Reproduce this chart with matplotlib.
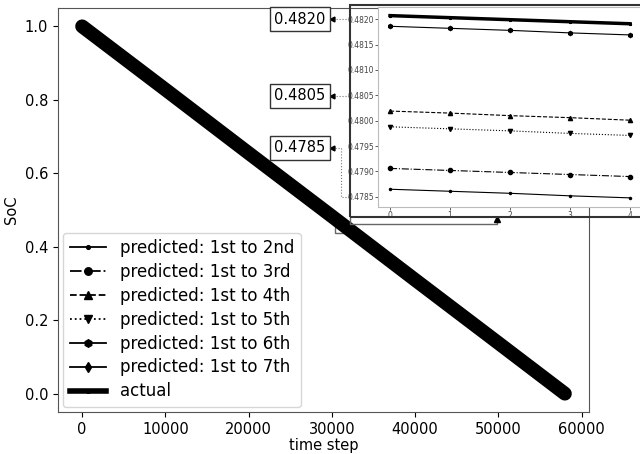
import matplotlib.pyplot as plt
from matplotlib.lines import Line2D
from matplotlib.patches import Rectangle

# main curve
time_step = [0, 10000, 20000, 30000, 40000, 50000, 58000]
soc_main = [1.0, 0.828, 0.655, 0.483, 0.310, 0.138, 0.0]

# zoomed window (inset), 5 steps
zoom_x = [0, 1, 2, 3, 4]
actual = [0.48207, 0.48203, 0.48199, 0.48195, 0.48191]
pred_2nd = [0.47865, 0.47861, 0.47857, 0.47852, 0.47848]
pred_3rd = [0.47906, 0.47902, 0.47898, 0.47894, 0.47890]
pred_4th = [0.48019, 0.48015, 0.48010, 0.48006, 0.48001]
pred_5th = [0.47988, 0.47984, 0.47980, 0.47975, 0.47971]
pred_6th = [0.48186, 0.48182, 0.48178, 0.48173, 0.48169]
pred_7th = [0.47815, 0.47811, 0.47807, 0.47803, 0.47799]

labels = ['predicted: 1st to 2nd', 'predicted: 1st to 3rd', 'predicted: 1st to 4th',
          'predicted: 1st to 5th', 'predicted: 1st to 6th', 'predicted: 1st to 7th', 'actual']
box_labels = ['0.4820', '0.4805', '0.4785']

W, H = 640, 454
fig = plt.figure(figsize=(6.4, 4.54), dpi=100)
ax = fig.add_axes([58/W, 1-412/H, 531/W, 404/H])

ax.plot(time_step, soc_main, color='black', lw=10, solid_capstyle='round')
ax.set_xlabel('time step', fontsize=10.5, labelpad=1)
ax.set_ylabel('SoC', fontsize=10.5)
ax.tick_params(labelsize=10.5)
ax.set_xticks([0, 10000, 20000, 30000, 40000, 50000, 60000])
ax.set_xlim(-2900, 60900)
ax.set_ylim(-0.05, 1.05)
for s in ax.spines.values():
    s.set_color('#555555')

# little rectangle marking the zoom window
ax.add_patch(Rectangle((30400, 0.438), 1900, 0.017, fill=False, ec='#666666', lw=1, zorder=1))

# inset
ins = fig.add_axes([378/W, 1-207/H, 264/W, 200/H])
series = [pred_2nd, pred_3rd, pred_4th, pred_5th, pred_6th, pred_7th]
styles = [('-', '.'), ('-.', 'o'), ('--', '^'), (':', 'v'), ('-', 'h'), ('-', 'd')]
handles = []
for vals, (ls, mk), lab in zip(series, styles, labels):
    h, = ins.plot(zoom_x, vals, color='black', ls=ls, marker=mk, ms=3, lw=0.8, label=lab)
    handles.append(h)
h, = ins.plot(zoom_x, actual, color='black', lw=2.5, marker='*', ms=2, label=labels[-1])
handles.append(h)
ins.set_xlim(-0.2, 4.2)
ins.set_ylim(0.47830, 0.48224)
ins.set_xticks(zoom_x)
ins.set_yticks([0.4785, 0.4790, 0.4795, 0.4800, 0.4805, 0.4810, 0.4815, 0.4820])
ins.set_yticklabels(['%.4f' % v for v in ins.get_yticks()])
ins.tick_params(labelsize=5.5, length=2, width=0.6, pad=1, colors='#444444')
for s in ins.spines.values():
    s.set_color('#bbbbbb')

# legend with thicker-looking handles
leg = ax.legend(handles=handles, loc='lower left', fontsize=12, markerscale=1.8,
                borderaxespad=0.3, handlelength=2.2, labelspacing=0.35)
for lh in leg.get_lines()[:-1]:
    lh.set_linewidth(1.3)
leg.get_lines()[-1].set_linewidth(4)

# outer frame around the inset
fig.add_artist(Rectangle((350/W, 1-217/H), 300/W, 212/H, transform=fig.transFigure,
                         fill=False, ec='#333333', lw=1.5, zorder=5))

# value boxes with dotted leaders
def fp(x, y):
    return (x/W, 1-y/H)

box_y = [19, 96, 148]
tick_y = [19, 96, 197]
for lab, by, ty in zip(box_labels, box_y, tick_y):
    fig.text(300/W, 1-by/H, lab, ha='center', va='center', fontsize=10.5,
             bbox=dict(boxstyle='square,pad=0.3', fc='white', ec='#333333', lw=1))
    if by == ty:
        xs, ys = [349, 332], [ty, ty]
    else:
        xs, ys = [349, 341, 341, 332], [ty, ty, by, by]
    pts = [fp(x, y) for x, y in zip(xs, ys)]
    fig.add_artist(Line2D([p[0] for p in pts], [p[1] for p in pts], transform=fig.transFigure,
                          ls=':', lw=0.8, color='#777777'))
    fig.add_artist(Line2D([pts[-1][0]], [pts[-1][1]], transform=fig.transFigure,
                          marker='<', ms=3.5, color='black', ls='none'))

# connector from zoom rectangle to inset
pts = [fp(350, 217), fp(350, 224), fp(497, 224), fp(497, 221)]
fig.add_artist(Line2D([p[0] for p in pts], [p[1] for p in pts], transform=fig.transFigure,
                      lw=1, color='#666666'))
fig.add_artist(Line2D([fp(497, 219)[0]], [fp(497, 219)[1]], transform=fig.transFigure,
                      marker='^', ms=4, color='black', ls='none'))

fig.savefig('out.png', dpi=100)
